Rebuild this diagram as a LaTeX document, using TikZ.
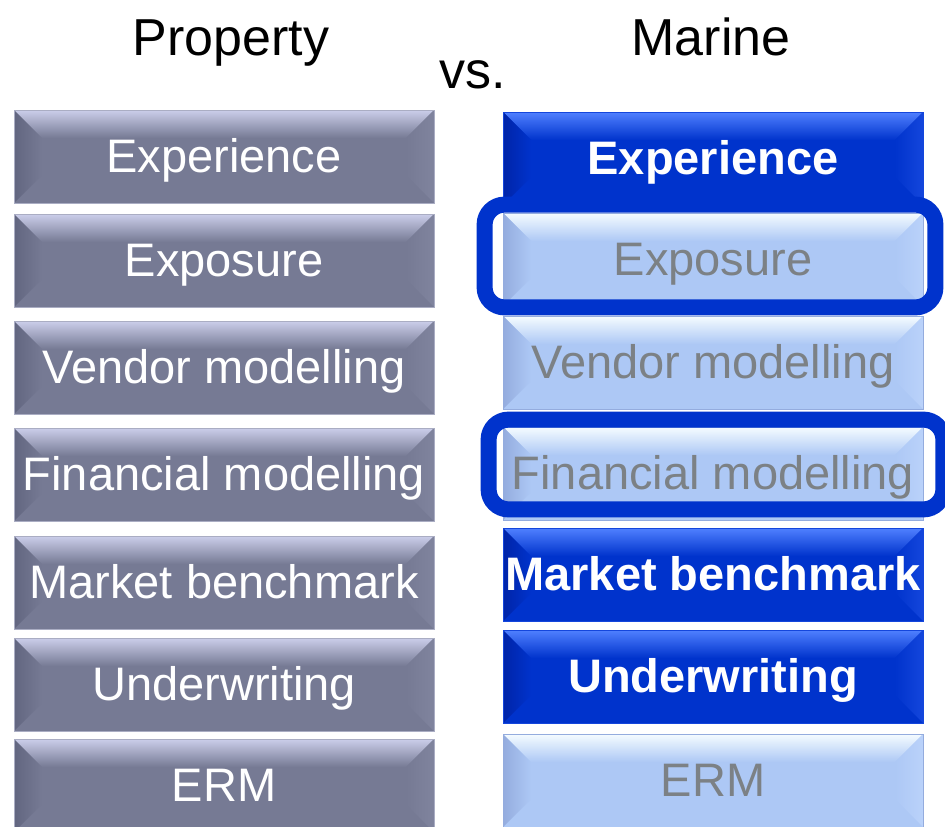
\documentclass[tikz,border=0pt]{standalone}
\usepackage{fontspec}
\setmainfont{Liberation Sans}
\usetikzlibrary{calc}

\definecolor{propbase}{RGB}{118,122,148}
\definecolor{proptop}{RGB}{203,206,234}
\definecolor{propleft}{RGB}{98,102,128}
\definecolor{propright}{RGB}{128,132,158}
\definecolor{propline}{RGB}{170,173,195}
\definecolor{keybase}{RGB}{0,51,204}
\definecolor{keytop}{RGB}{80,128,255}
\definecolor{keyleft}{RGB}{0,36,168}
\definecolor{keyright}{RGB}{20,70,220}
\definecolor{softbase}{RGB}{173,200,245}
\definecolor{softtop}{RGB}{245,252,255}
\definecolor{softleft}{RGB}{148,172,222}
\definecolor{softright}{RGB}{186,210,250}
\definecolor{softtext}{RGB}{124,129,133}

% bevelled faces: top, left, right, base
\newcommand\bevelfaces[4]{%
  \coordinate (bnw) at (path picture bounding box.north west);
  \coordinate (bse) at (path picture bounding box.south east);
  \coordinate (bne) at (bse |- bnw);
  \coordinate (bsw) at (bnw |- bse);
  \shade[top color=#1, bottom color=#4] (bnw) -- (bne)
    -- ($(bne)+(-28pt,-28pt)$) -- ($(bnw)+(28pt,-28pt)$) -- cycle;
  \shade[left color=#2, right color=#4] (bnw) -- ($(bnw)+(28pt,-28pt)$)
    -- ($(bsw)+(28pt,28pt)$) -- (bsw) -- cycle;
  \shade[left color=#4, right color=#3] (bne) -- ($(bne)+(-28pt,-28pt)$)
    -- ($(bse)+(-28pt,28pt)$) -- (bse) -- cycle;
}

\tikzset{
  tile/.style={rectangle, minimum width=420pt, minimum height=93pt,
    inner sep=0pt, text height=32pt, text depth=0pt, line width=0.8pt,
    font=\fontsize{47}{50}\selectfont},
  propbox/.style={tile, fill=propbase, draw=propline, text=white,
    path picture={\bevelfaces{proptop}{propleft}{propright}{propbase}}},
  keybox/.style={tile, fill=keybase, draw=keyright, text=white,
    font=\fontsize{47}{50}\selectfont\bfseries,
    path picture={\bevelfaces{keytop}{keyleft}{keyright}{keybase}}},
  softbox/.style={tile, fill=softbase, draw=softleft, text=softtext,
    path picture={\bevelfaces{softtop}{softleft}{softright}{softbase}}},
  ringframe/.style={draw=keybase, line width=16pt, rounded corners=20pt},
  heading/.style={anchor=base, font=\fontsize{52}{56}\selectfont}
}

\begin{document}
\begin{tikzpicture}[x=1pt,y=-1pt]
  \useasboundingbox (0,0) rectangle (945,827);

  \node[heading] (property) at (231,55) {Property};
  \node[heading] (versus) at (473,88) {vs.};
  \node[heading] (marine) at (711,55) {Marine};

  % property column
  \node[propbox] (pExperience) at (224,156.5) {Experience};
  \node[propbox] (pExposure)   at (224,260.5) {Exposure};
  \node[propbox] (pVendor)     at (224,367.5) {Vendor modelling};
  \node[propbox] (pFinancial)  at (224,474.5) {Financial modelling};
  \node[propbox] (pMarket)     at (224,582.5) {Market benchmark};
  \node[propbox] (pUnder)      at (224,684.5) {Underwriting};
  \node[propbox] (pERM)        at (224,785.5) {ERM};

  % marine column
  \node[keybox]  (mExperience) at (713,158.5) {Experience};
  \node[softbox] (mExposure)   at (713,259.5) {Exposure};
  \node[softbox] (mVendor)     at (713,362.5) {Vendor modelling};
  \node[softbox] (mFinancial)  at (713,473.5) {Financial modelling};
  \node[keybox]  (mMarket)     at (713,574.5) {Market benchmark};
  \node[keybox]  (mUnder)      at (713,676.5) {Underwriting};
  \node[softbox] (mERM)        at (713,780.5) {ERM};

  % rings round the marine gaps
  \draw[ringframe] ($(mExposure.north west)+(-18,-8)$)
    rectangle ($(mExposure.south east)+(12,1)$);
  \draw[ringframe] ($(mFinancial.north west)+(-14,-7)$)
    rectangle ($(mFinancial.south east)+(20,-11)$);
\end{tikzpicture}
\end{document}
